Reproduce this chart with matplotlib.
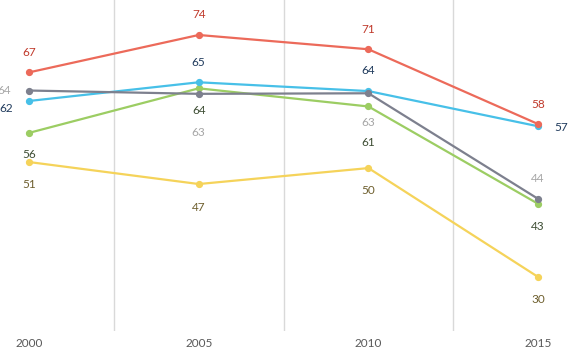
# Импортируем matplotlib и переводим его в безэкранный режим.
import matplotlib

matplotlib.use("Agg")

import matplotlib.pyplot as plt

# Подписи категорий по оси X.
years = ["2000", "2005", "2010", "2015"]

# Значения рядов.
red_values = [67.2, 74.0, 71.4, 57.8]
blue_values = [62.0, 65.4, 63.8, 57.4]
gray_values = [63.9, 63.3, 63.4, 44.2]
green_values = [56.2, 64.3, 61.0, 43.3]
yellow_values = [50.9, 46.9, 49.8, 30.0]

# Стиль рядов: цвет линии, цвет подписей и смещения подписей в пикселях.
series = [
    (yellow_values, "#f5d35a", "#6e5f2e", [(0, -22), (0, -23), (0, -22), (0, -23)]),
    (green_values, "#9ccd63", "#3d4d33", [(0, -22), (0, -22), (0, -36), (0, -23)]),
    (blue_values, "#47c0e8", "#1f3a5c", [(-23, -8), (0, 20), (0, 21), (23, -1)]),
    (gray_values, "#7d808e", "#a6a6a6", [(-25, 0), (0, -39), (0, -29), (0, 20)]),
    (red_values, "#ec6a5a", "#c0392b", [(0, 20), (0, 20), (0, 20), (0, 20)]),
]

plt.rcParams["font.family"] = ["Lato", "DejaVu Sans"]

# Создаём фигуру нужного размера.
fig = plt.figure(figsize=(5.68, 3.56), dpi=100)
ax = fig.add_axes([0, 25 / 356, 1, 331 / 356])

x = list(range(len(years)))

# Строим линии и подписи значений.
for values, line_color, text_color, offsets in series:
    ax.plot(x, values, color=line_color, linewidth=1.6, marker="o", markersize=4.2, zorder=3)
    for xi, value, (dx, dy) in zip(x, values, offsets):
        ax.annotate(f"{value:.0f}", (xi, value), xytext=(dx, dy), textcoords="offset pixels",
                    ha="center", va="center", fontsize=8.5, color=text_color, zorder=4)

# Вертикальные линии между категориями.
for boundary in [0.5, 1.5, 2.5]:
    ax.axvline(boundary, color="#d9d9d9", linewidth=1, zorder=1)

# Границы осей, чтобы точки легли как на оригинале.
ax.set_xlim(-0.171, 3.176)
ax.set_ylim(20.18, 80.36)

ax.set_xticks(x)
ax.set_xticklabels(years, fontsize=8.5, color="#595959")
ax.tick_params(axis="x", length=0, pad=5)
ax.set_yticks([])

for spine in ax.spines.values():
    spine.set_visible(False)

fig.savefig("out.png", dpi=100)
plt.close(fig)
